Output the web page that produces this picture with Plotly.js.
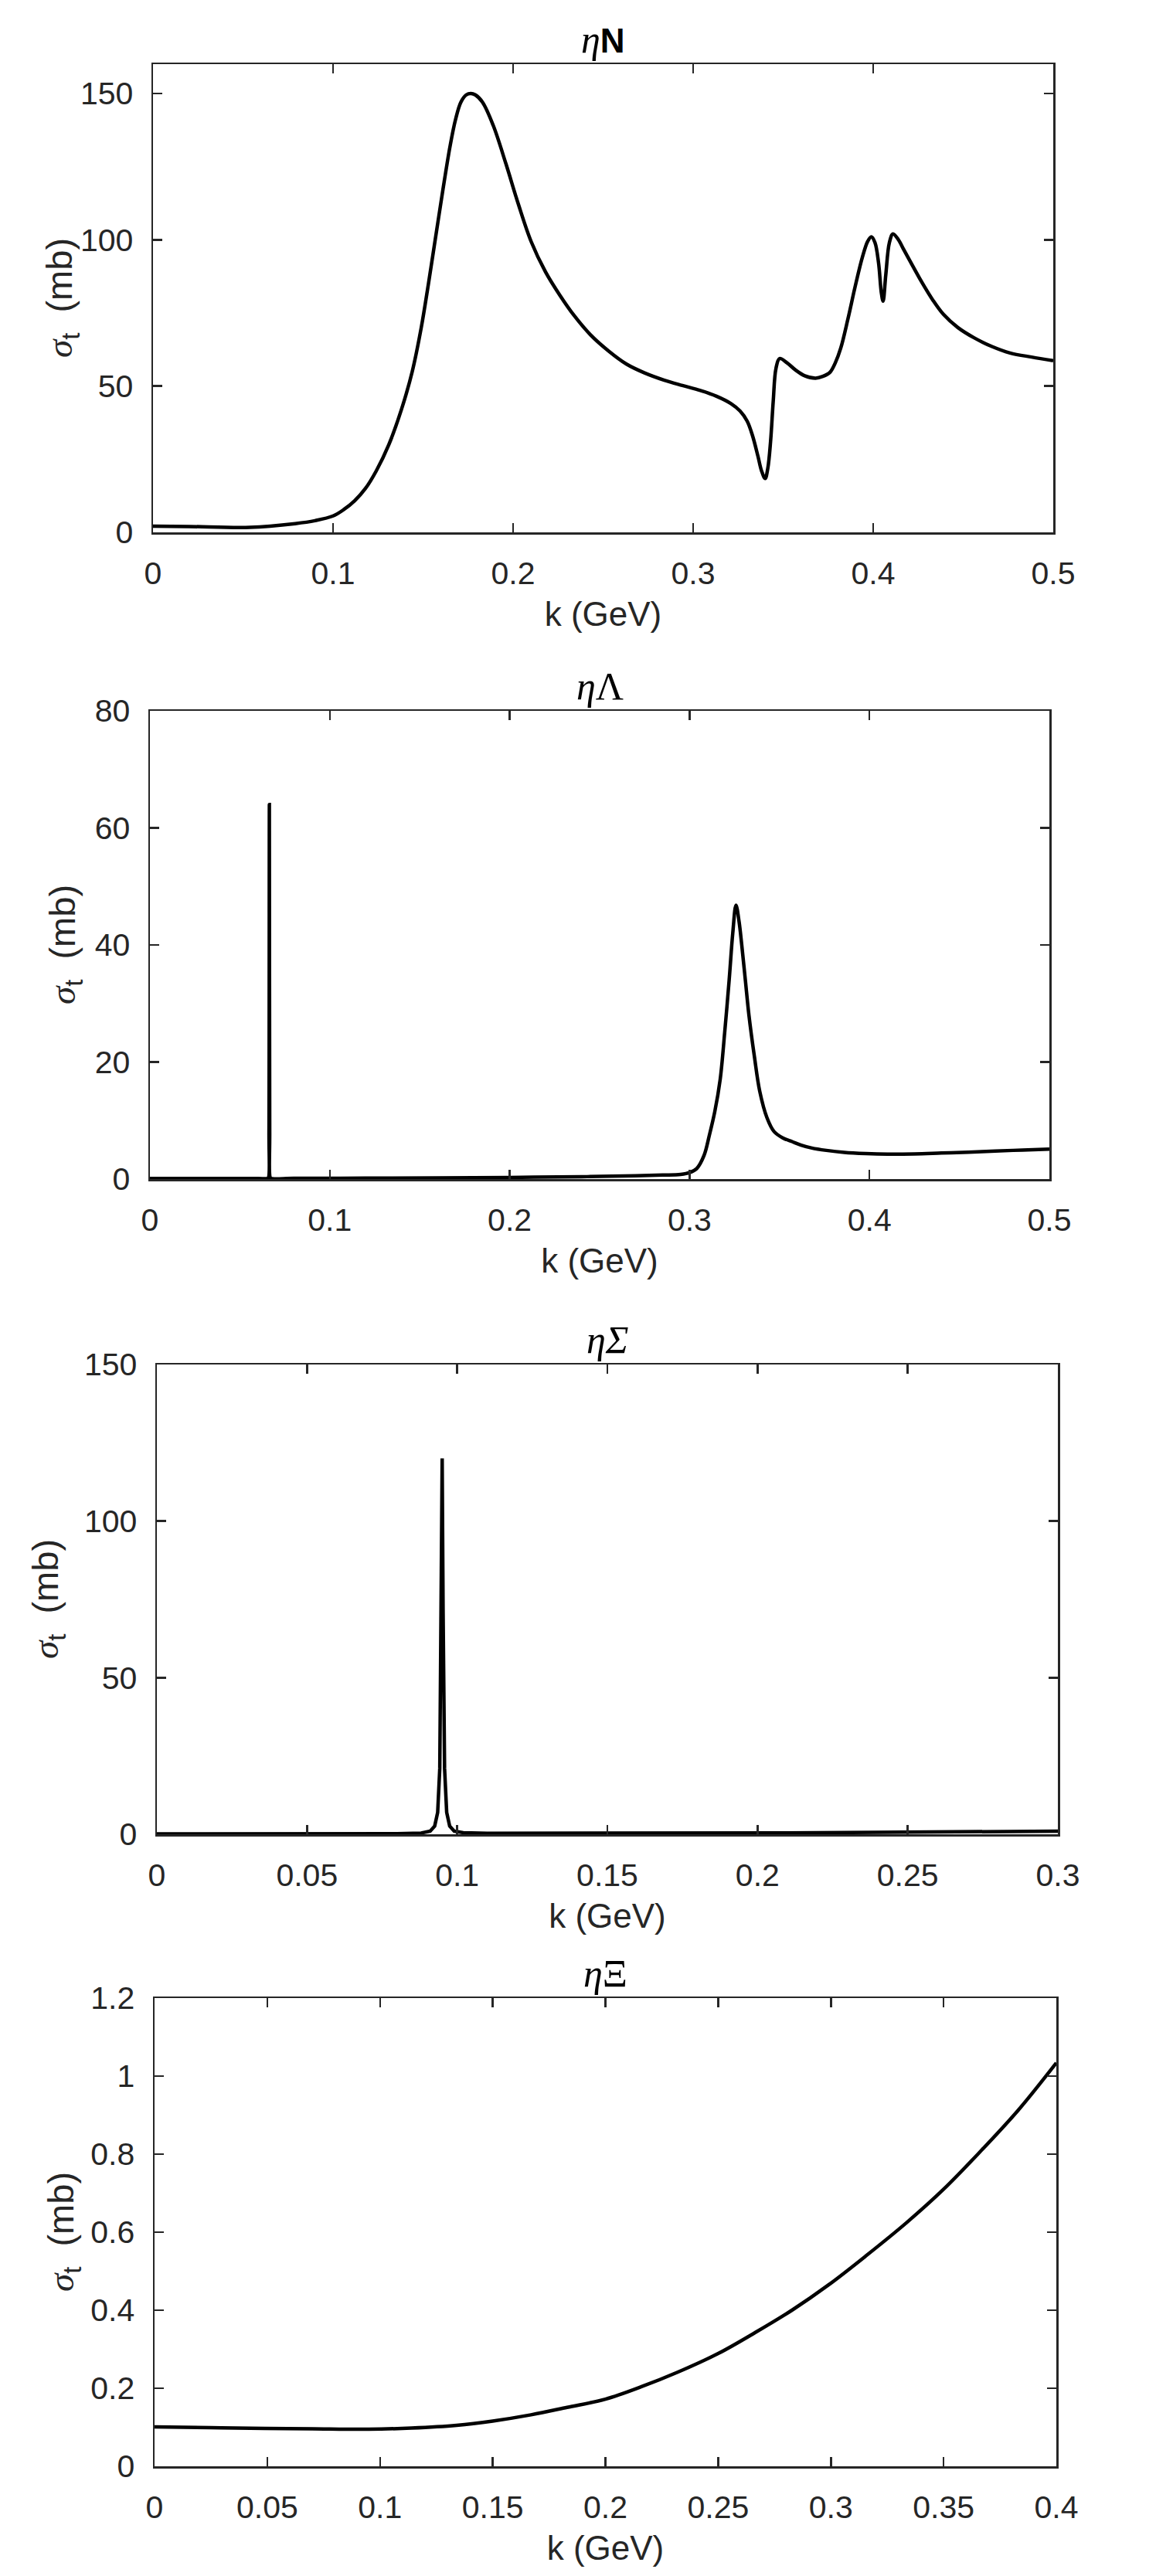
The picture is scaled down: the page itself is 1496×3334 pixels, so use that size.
<!DOCTYPE html>
<html>
<head>
<meta charset="utf-8">
<script src="https://cdn.plot.ly/plotly-3.0.1.min.js"></script>
<style>
  html, body { margin: 0; padding: 0; background: #fff; }
  #chart { width: 1496px; height: 3334px; }
</style>
</head>
<body>
<div id="chart"></div>
<script>
// ---------- data ----------
// Panel 1: eta N
const kN = [0, 0.02, 0.054, 0.079, 0.09, 0.1, 0.106, 0.112, 0.118, 0.124, 0.131, 0.138, 0.144, 0.149, 0.153, 0.157, 0.161, 0.165, 0.168, 0.171, 0.174, 0.1765, 0.179, 0.183, 0.189, 0.196, 0.203, 0.21, 0.218, 0.226, 0.234, 0.243, 0.253, 0.263, 0.273, 0.284, 0.294, 0.304, 0.313, 0.321, 0.326, 0.330, 0.333, 0.336, 0.338, 0.340, 0.3415, 0.343, 0.3445, 0.346, 0.348, 0.352, 0.357, 0.362, 0.368, 0.372, 0.376, 0.379, 0.382, 0.386, 0.390, 0.394, 0.397, 0.399, 0.401, 0.403, 0.4045, 0.4055, 0.407, 0.409, 0.411, 0.414, 0.417, 0.422, 0.427, 0.433, 0.439, 0.447, 0.456, 0.466, 0.476, 0.488, 0.5];
const sigmaN = [2.1, 2.0, 1.7, 3.0, 4.0, 5.6, 7.8, 10.8, 15, 21, 30, 42, 55, 70, 85, 101, 117, 132, 141, 147, 149.5, 150, 149.5, 147, 139, 126, 112, 99.4, 89, 81, 74, 67.5, 62, 57.5, 54.5, 52, 50.2, 48.5, 46.5, 44, 41.5, 38, 33, 26, 21, 18.4, 22, 31, 45, 56, 59.4, 58, 55.4, 53.5, 52.7, 53.3, 54.7, 58, 63, 73, 84, 94, 99.5, 101, 99, 92, 82, 79, 88, 99, 102, 100, 96.6, 91, 85.5, 79.5, 74.5, 70, 66.5, 63.5, 61.3, 59.9, 58.7];

// Panel 2: eta Lambda
const kL = [0, 0.03, 0.06, 0.0655, 0.066, 0.0662, 0.0664, 0.0666, 0.0668, 0.0673, 0.08, 0.12, 0.16, 0.2, 0.24, 0.27, 0.285, 0.295, 0.300, 0.304, 0.308, 0.311, 0.314, 0.317, 0.3195, 0.322, 0.324, 0.3258, 0.3275, 0.329, 0.331, 0.333, 0.336, 0.339, 0.343, 0.347, 0.352, 0.357, 0.362, 0.368, 0.376, 0.386, 0.398, 0.41, 0.425, 0.44, 0.455, 0.47, 0.485, 0.5];
const sigmaL = [0.1, 0.1, 0.1, 0.12, 0.3, 8, 64, 8, 0.3, 0.12, 0.12, 0.15, 0.2, 0.28, 0.4, 0.55, 0.68, 0.8, 1.1, 1.8, 4.0, 7.5, 11.5, 17, 25, 34, 42, 46.8, 44, 40, 34, 28, 21, 15, 10.5, 8.1, 7.0, 6.4, 5.8, 5.3, 4.9, 4.55, 4.35, 4.26, 4.3, 4.45, 4.6, 4.8, 4.95, 5.1];

// Panel 3: eta Sigma
const kS = [0, 0.03, 0.06, 0.08, 0.088, 0.091, 0.0925, 0.0935, 0.0942, 0.0947, 0.095, 0.0953, 0.0958, 0.0965, 0.0975, 0.099, 0.102, 0.11, 0.13, 0.15, 0.18, 0.21, 0.24, 0.27, 0.3];
const sigmaS = [0.1, 0.1, 0.12, 0.2, 0.4, 1.0, 2.6, 7, 21, 72, 120, 72, 21, 7, 2.6, 1.0, 0.5, 0.3, 0.28, 0.3, 0.35, 0.45, 0.6, 0.8, 1.0];

// Panel 4: eta Xi
const kX = [0, 0.025, 0.049, 0.07, 0.095, 0.114, 0.134, 0.15, 0.167, 0.183, 0.2, 0.216, 0.232, 0.25, 0.2665, 0.283, 0.299, 0.3155, 0.3335, 0.35, 0.366, 0.383, 0.4];
const sigmaX = [0.101, 0.099, 0.097, 0.096, 0.095, 0.098, 0.105, 0.116, 0.132, 0.151, 0.172, 0.204, 0.241, 0.289, 0.343, 0.401, 0.465, 0.539, 0.624, 0.71, 0.805, 0.912, 1.034];

// axis ranges / ticks
const xRanges = [[0, 0.5], [0, 0.5], [0, 0.3], [0, 0.4]];
const xDticks = [0.1, 0.1, 0.05, 0.05];
const yRanges = [[0, 160], [0, 80], [0, 150], [0, 1.2]];
const yDticks = [50, 20, 50, 0.2];

const titles = [
  "<i>η</i><span style=\"font-family:Liberation Sans;font-size:44px\"><b>N</b></span>",
  "<i>η</i>Λ",
  "<i>η</i><i>Σ</i>",
  "<i>η</i>Ξ"
];
const xTitle = "k (GeV)";
const yTitle = "<span style=\"font-family:Liberation Serif\"><i>σ</i></span><sub>t</sub>\u00A0\u00A0(mb)";

// ---------- layout geometry (pixels) ----------
const W = 1496, H = 3334;
const boxes = [
  {l: 198, r: 1363, t: 83,   b: 689},
  {l: 194, r: 1358, t: 920,  b: 1526},
  {l: 203, r: 1369, t: 1766, b: 2374},
  {l: 200, r: 1367, t: 2586, b: 3192}
];
const ylabelX = [80, 84, 62, 82];

const axisColor = '#262626';
const sans = "Liberation Sans, Arial, Helvetica, sans-serif";
const serif = "Liberation Serif, DejaVu Serif, serif";

const series = [[kN, sigmaN, 'spline'], [kL, sigmaL, 'spline'], [kS, sigmaS, 'linear'], [kX, sigmaX, 'spline']];

const data = [];
const layout = {
  width: W, height: H,
  margin: {l: 0, r: 0, t: 0, b: 0},
  paper_bgcolor: '#fff', plot_bgcolor: '#fff',
  showlegend: false,
  font: {family: sans, color: axisColor},
  annotations: []
};

series.forEach((s, i) => {
  const n = i + 1;
  const xa = 'x' + (n === 1 ? '' : n), ya = 'y' + (n === 1 ? '' : n);
  data.push({
    x: s[0], y: s[1], type: 'scatter', mode: 'lines',
    line: {color: '#000', width: 4.5, shape: s[2], smoothing: 1},
    xaxis: xa, yaxis: ya, hoverinfo: 'skip'
  });
  const bx = boxes[i];
  const common = {
    ticks: 'inside', ticklen: 12, tickwidth: 2.5, tickcolor: axisColor,
    showline: true, linecolor: axisColor, linewidth: 2.5, mirror: 'ticks',
    showgrid: false, zeroline: false, tick0: 0,
    tickfont: {family: sans, size: 41, color: axisColor},
    fixedrange: true, automargin: false
  };
  layout['xaxis' + (n === 1 ? '' : n)] = Object.assign({}, common, {
    domain: [bx.l / W, bx.r / W],
    range: xRanges[i], dtick: xDticks[i],
    anchor: ya,
    ticklabelstandoff: 15,
    title: {text: xTitle, font: {family: sans, size: 44, color: axisColor}, standoff: 16}
  });
  layout['yaxis' + (n === 1 ? '' : n)] = Object.assign({}, common, {
    domain: [1 - bx.b / H, 1 - bx.t / H],
    range: yRanges[i], dtick: yDticks[i],
    anchor: xa,
    ticklabelstandoff: 15
  });
  // y-axis label
  layout.annotations.push({
    text: yTitle, showarrow: false, textangle: -90,
    xref: 'paper', yref: ya + ' domain',
    x: ylabelX[i] / W, y: 0.5, xanchor: 'center', yanchor: 'middle',
    font: {family: sans, size: 47, color: axisColor}
  });
  // panel title
  layout.annotations.push({
    text: titles[i], showarrow: false,
    xref: xa + ' domain', yref: ya + ' domain',
    x: 0.5, y: 1, xanchor: 'center', yanchor: 'bottom', yshift: 2,
    font: {family: serif, size: 50, color: '#000'}
  });
});

Plotly.newPlot('chart', data, layout, {displayModeBar: false, staticPlot: true});
</script>
</body>
</html>
